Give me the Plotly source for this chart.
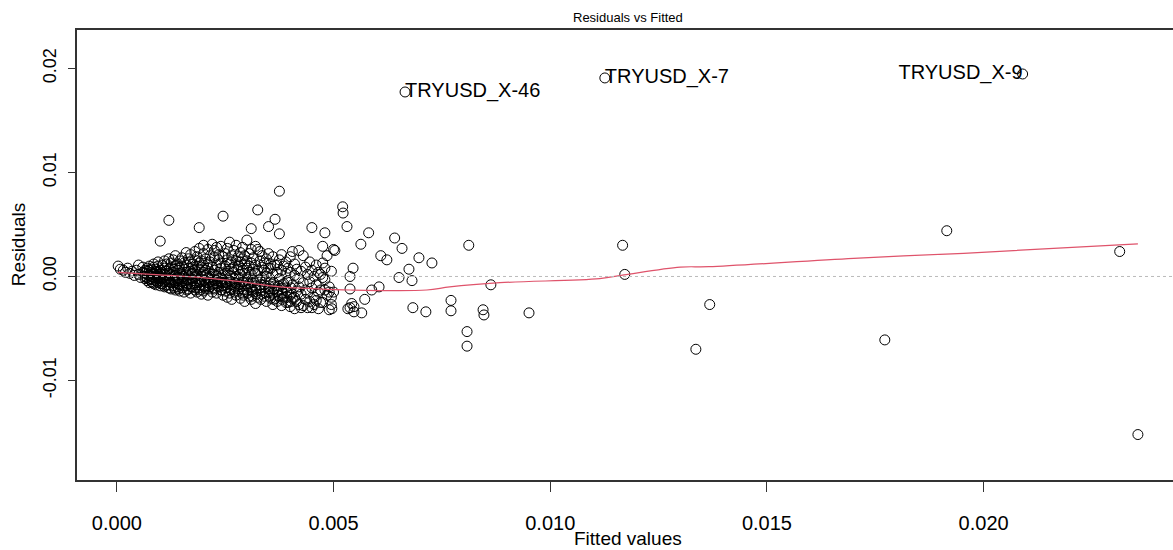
import plotly.graph_objects as go

# dense cluster: fitted value -> residuals seen at that fitted value
cluster = {
    0.00003: [0.0010], 0.00008: [0.0007], 0.00015: [0.0006], 0.0002: [0.0004],
    0.00025: [0.0008], 0.0003: [0.0003], 0.00035: [0.0005], 0.0004: [0.0001],
    0.00045: [0.0006], 0.0005: [0.0011, 0.0002], 0.00055: [-0.0001],
    0.0006: [0.0004, 0.0009],
    0.00065: [0.0003, -0.0002, 0.0006, 0.0000],
    0.0007: [0.0008, -0.0004, 0.0002, 0.0005, -0.0001],
    0.00075: [0.0001, -0.0003, 0.0006, 0.0010, -0.0006],
    0.0008: [0.0004, -0.0005, 0.0000, 0.0007, -0.0002],
    0.00085: [0.0009, -0.0007, 0.0003, -0.0001, 0.0012],
    0.0009: [0.0005, -0.0004, 0.0001, -0.0008, 0.0007],
    0.00095: [0.0002, -0.0006, 0.0010, -0.0002, 0.0014],
    0.001: [0.0034, 0.0006, -0.0009, 0.0000, 0.0003, -0.0004],
    0.00105: [0.0011, -0.0007, 0.0004, -0.0002],
    0.0011: [0.0015, -0.0010, 0.0002, 0.0008, -0.0005],
    0.00115: [0.0005, -0.0003, 0.0012, -0.0008],
    0.0012: [0.0054, 0.0017, -0.0011, 0.0001, 0.0007, -0.0005],
    0.00125: [0.0009, -0.0006, 0.0002, -0.0012, 0.0013],
    0.0013: [0.0004, -0.0009, 0.0016, -0.0003, 0.0007],
    0.00135: [0.0001, -0.0013, 0.0010, -0.0006, 0.0020],
    0.0014: [0.0006, -0.0004, 0.0012, -0.0010, -0.0001],
    0.00145: [0.0015, -0.0008, 0.0003, -0.0014, 0.0008],
    0.0015: [0.0002, -0.0011, 0.0018, -0.0005, 0.0010],
    0.00155: [0.0007, -0.0002, -0.0015, 0.0013, 0.0000],
    0.0016: [0.0011, -0.0009, 0.0004, 0.0023, -0.0006],
    0.00165: [0.0001, -0.0012, 0.0017, -0.0003, 0.0008],
    0.0017: [0.0014, -0.0007, 0.0005, -0.0016, 0.0021],
    0.00175: [0.0003, -0.0010, 0.0009, -0.0004, 0.0012],
    0.0018: [0.0024, -0.0013, 0.0006, -0.0001, 0.0016],
    0.00185: [0.0010, -0.0008, 0.0002, -0.0015, 0.0019],
    0.0019: [0.0047, 0.0007, -0.0005, 0.0013, -0.0011, 0.0027],
    0.00195: [0.0000, -0.0017, 0.0015, -0.0003, 0.0009],
    0.002: [0.0022, -0.0009, 0.0004, -0.0014, 0.0011, 0.0030],
    0.00205: [0.0006, -0.0006, 0.0017, -0.0012, 0.0001],
    0.0021: [0.0026, -0.0002, 0.0012, -0.0018, 0.0008],
    0.00215: [0.0003, -0.0010, 0.0020, -0.0005, 0.0014],
    0.0022: [0.0031, 0.0009, -0.0015, 0.0002, -0.0008],
    0.00225: [0.0018, -0.0004, 0.0006, -0.0012, 0.0025],
    0.0023: [0.0011, -0.0016, 0.0001, 0.0028, -0.0007],
    0.00235: [0.0004, -0.0010, 0.0016, -0.0002, 0.0021],
    0.0024: [0.0008, -0.0013, 0.0029, -0.0005, 0.0013],
    0.00245: [0.0058, 0.0002, -0.0018, 0.0019, -0.0009],
    0.0025: [0.0010, -0.0014, 0.0003, 0.0022, -0.0006],
    0.00255: [0.0016, -0.0020, 0.0005, -0.0010, 0.0027],
    0.0026: [0.0001, -0.0016, 0.0012, 0.0033, -0.0004],
    0.00265: [0.0020, -0.0008, 0.0007, -0.0022, 0.0014],
    0.0027: [0.0004, -0.0012, 0.0025, -0.0002, 0.0009],
    0.00275: [0.0015, -0.0018, 0.0000, 0.0030, -0.0007],
    0.0028: [0.0007, -0.0014, 0.0019, -0.0003, 0.0011],
    0.00285: [0.0023, -0.0010, 0.0002, -0.0021, 0.0014],
    0.0029: [0.0006, -0.0016, 0.0017, -0.0005, 0.0028],
    0.00295: [0.0012, -0.0024, 0.0003, -0.0009, 0.0020],
    0.003: [0.0035, 0.0008, -0.0013, -0.0001, 0.0015],
    0.00305: [0.0004, -0.0019, 0.0022, -0.0007, 0.0010],
    0.0031: [0.0046, 0.0013, -0.0011, 0.0002, -0.0022, 0.0026],
    0.00315: [0.0007, -0.0015, 0.0018, -0.0004],
    0.0032: [0.0011, -0.0026, 0.0003, 0.0029, -0.0009],
    0.00325: [0.0064, 0.0026, -0.0020, 0.0005],
    0.0033: [0.0024, -0.0011, 0.0015, -0.0003],
    0.00335: [-0.0001, 0.0009, -0.0017, 0.0020],
    0.0034: [-0.0019, 0.0006, 0.0013, -0.0008],
    0.00345: [0.0000, -0.0024, 0.0017, 0.0003],
    0.0035: [0.0048, 0.0008, -0.0012, 0.0022],
    0.00355: [0.0008, -0.0005, -0.0021, 0.0012],
    0.0036: [0.0002, -0.0016, 0.0019, -0.0027],
    0.00365: [0.0055, -0.0021, 0.0011, -0.0009],
    0.0037: [0.0011, -0.0015, 0.0004, -0.0024],
    0.00375: [0.0082, 0.0041, 0.0016, -0.0002, -0.0019],
    0.0038: [0.0006, -0.0012, -0.0028, 0.0021],
    0.00385: [-0.0020, 0.0010, -0.0007],
    0.0039: [-0.0011, 0.0003, -0.0025, 0.0014],
    0.00395: [-0.0025, -0.0004, 0.0008],
    0.004: [0.0004, -0.0018, -0.0029, 0.0019],
    0.00405: [0.0024, -0.0008, -0.0021],
    0.0041: [-0.0020, 0.0001, 0.0012, -0.0031],
    0.00415: [0.0007, -0.0014, -0.0024],
    0.0042: [0.0025, -0.0002, -0.0027, -0.0010],
    0.00425: [0.0005, -0.0017, -0.0030],
    0.0043: [0.0020, -0.0028, -0.0006],
    0.00435: [-0.0013, 0.0009, -0.0022],
    0.0044: [-0.0016, -0.0030, 0.0002],
    0.00445: [-0.0005, -0.0024, 0.0014],
    0.0045: [0.0047, -0.0030, -0.0011, 0.0006],
    0.00455: [-0.0020, -0.0027, 0.0000],
    0.0046: [-0.0023, 0.0011, -0.0008],
    0.00465: [-0.0015, -0.0031, 0.0004],
    0.0047: [-0.0025, 0.0002, -0.0013],
    0.00475: [0.0029, -0.0025, 0.0013, -0.0001],
    0.0048: [0.0042, -0.0013, -0.0003, 0.0008],
    0.00485: [-0.0018, 0.0020],
    0.0049: [-0.0032, -0.0010, -0.0015],
    0.00495: [-0.0027, 0.0005, -0.0020],
    0.005: [0.0026, -0.0015],
}

# extra points in the dark core of the cluster, just below zero
core = {
    0.00082: [-0.0003, 0.0002, -0.0006], 0.00092: [0.0000, -0.0005, 0.0004],
    0.00102: [-0.0002, -0.0007, 0.0002], 0.00112: [-0.0004, 0.0001, -0.0009],
    0.00122: [-0.0008, -0.0002, 0.0003], 0.00132: [-0.0005, -0.0011, 0.0001],
    0.00142: [-0.0007, -0.0002, -0.0012], 0.00152: [-0.0009, 0.0000, -0.0004],
    0.00162: [-0.0003, -0.0013, -0.0007], 0.00172: [-0.0010, -0.0002, 0.0002],
    0.00182: [-0.0006, -0.0011, 0.0000], 0.00192: [-0.0008, -0.0003, -0.0013],
    0.00202: [-0.0004, -0.0010, 0.0001], 0.00212: [-0.0012, -0.0006, -0.0001],
    0.00222: [-0.0003, -0.0011, -0.0007], 0.00232: [-0.0009, -0.0004, 0.0000],
    0.00242: [-0.0013, -0.0006, -0.0002], 0.00252: [-0.0008, -0.0003, -0.0011],
    0.00262: [-0.0005, -0.0013, 0.0000], 0.00272: [-0.0010, -0.0006, -0.0015],
    0.00282: [-0.0008, -0.0001, -0.0012], 0.00292: [-0.0013, -0.0005, -0.0018],
    0.00302: [-0.0009, -0.0003, -0.0016], 0.00312: [-0.0006, -0.0014, -0.0019],
    0.00322: [-0.0012, -0.0004, -0.0017], 0.00332: [-0.0008, -0.0014, -0.0022],
    0.00342: [-0.0011, -0.0005, -0.0016], 0.00352: [-0.0015, -0.0009, -0.0019],
    0.00362: [-0.0012, -0.0006, -0.0022], 0.00372: [-0.0009, -0.0018, -0.0013],
    0.00382: [-0.0016, -0.0022, -0.0008], 0.00392: [-0.0014, -0.0019, -0.0005],
    0.00402: [-0.0011, -0.0024, -0.0016],
}

# sparse points to the right of the cluster
sparse_fitted = [
    0.00503, 0.00521, 0.00522, 0.00531, 0.00581, 0.00563, 0.00641, 0.00658,
    0.00609, 0.00623, 0.00697, 0.00727, 0.00674, 0.00651, 0.00681, 0.00545,
    0.00538, 0.00538, 0.00605, 0.00588, 0.00572, 0.00683, 0.00713, 0.00771,
    0.00771, 0.00496, 0.00533, 0.00542, 0.00547, 0.00547, 0.00565, 0.00538,
    0.00812, 0.00808, 0.00808, 0.00845, 0.00847, 0.00863, 0.00951,
    0.01167, 0.01172, 0.01336, 0.01368, 0.01772, 0.01915, 0.02314, 0.02356,
]
sparse_resid = [
    0.0025, 0.0067, 0.0061, 0.0048, 0.0042, 0.0031, 0.0037, 0.0027,
    0.0020, 0.0016, 0.0018, 0.0013, 0.0007, -0.0001, -0.0004, 0.0008,
    0.0000, -0.0012, -0.0010, -0.0013, -0.0022, -0.0030, -0.0034, -0.0023,
    -0.0033, -0.0031, -0.0031, -0.0026, -0.0029, -0.0034, -0.0035, -0.0030,
    0.0030, -0.0053, -0.0067, -0.0032, -0.0037, -0.0008, -0.0035,
    0.0030, 0.0002, -0.0070, -0.0027, -0.0061, 0.0044, 0.0024, -0.0152,
]

# labelled outliers
label_fitted = [0.00665, 0.01126, 0.02090]
label_resid = [0.01774, 0.01909, 0.01947]
label_names = ["TRYUSD_X-46", "TRYUSD_X-7", "TRYUSD_X-9"]
label_pos = ["middle right", "middle right", "middle left"]

# smoother
smooth_x = [0.00002, 0.001, 0.00208, 0.00284, 0.00376, 0.00445, 0.00538,
            0.00715, 0.00768, 0.00884, 0.01114, 0.0117, 0.0130, 0.01366,
            0.0170, 0.01954, 0.02356]
smooth_y = [0.0004, 0.00015, -0.00015, -0.0005, -0.0010, -0.00115, -0.0013,
            -0.0013, -0.0010, -0.0006, -0.0002, 0.00015, 0.0009, 0.00094,
            0.00175, 0.00223, 0.00313]

groups = [cluster, core]
fitted = [x for g in groups for x, rs in g.items() for _ in rs] + sparse_fitted + label_fitted
resid = [r for g in groups for rs in g.values() for r in rs] + sparse_resid + label_resid

font = "Liberation Sans, Arial, sans-serif"

fig = go.Figure()
fig.add_shape(type="line", xref="paper", yref="y", x0=0, x1=1, y0=0, y1=0,
              line=dict(color="#bbbbbb", width=1, dash="dot"))
fig.add_trace(go.Scatter(
    x=fitted, y=resid, mode="markers",
    marker=dict(symbol="circle-open", size=10, color="black", line=dict(width=1)),
    showlegend=False,
))
fig.add_trace(go.Scatter(
    x=smooth_x, y=smooth_y, mode="lines", line=dict(color="#df536b", width=1.2),
    line_shape="spline", showlegend=False,
))
fig.add_trace(go.Scatter(
    x=label_fitted, y=label_resid, mode="text", text=label_names,
    textposition=label_pos, textfont=dict(size=20, color="black", family=font),
    showlegend=False,
))

# title and axis titles placed like R's plot()
fig.add_annotation(text="Residuals vs Fitted", xref="paper", yref="paper",
                   x=0.503, y=1.027, showarrow=False, font=dict(size=13),
                   xanchor="center", yanchor="middle")
fig.add_annotation(text="Fitted values", xref="paper", yref="paper",
                   x=0.503, y=-0.129, showarrow=False, font=dict(size=19),
                   xanchor="center", yanchor="middle")
fig.add_annotation(text="Residuals", xref="paper", yref="paper",
                   x=-0.0538, y=0.522, showarrow=False, font=dict(size=19),
                   textangle=-90, xanchor="center", yanchor="middle")

fig.update_layout(
    width=1173, height=550,
    margin=dict(l=77, r=0, t=30, b=70),
    paper_bgcolor="white", plot_bgcolor="white",
    font=dict(family=font, color="black"),
)
fig.update_xaxes(
    range=[-0.00092, 0.02437], tickvals=[0, 0.005, 0.01, 0.015, 0.02],
    ticktext=["0.000", "0.005", "0.010", "0.015", "0.020"], automargin=False,
    showgrid=False, zeroline=False, showline=True, linecolor="#333", linewidth=1.5,
    mirror=True, ticks="outside", ticklen=10, tickcolor="#333",
    ticklabelstandoff=14, tickfont=dict(size=20),
)
fig.update_yaxes(
    range=[-0.01957, 0.0237], tickvals=[-0.01, 0, 0.01, 0.02],
    ticktext=["-0.01", "0.00", "0.01", "0.02"], tickangle=-90, automargin=False,
    showgrid=False, zeroline=False, showline=True, linecolor="#333", linewidth=1.5,
    ticks="outside", ticklen=7, tickcolor="#333", tickfont=dict(size=18),
    ticklabelstandoff=5,
)

# drop the page's default body margin so the figure fills the window
fig.write_html(
    "out.html",
    config={"displayModeBar": False},
    post_script="document.body.style.margin='0';document.body.style.overflow='hidden';",
)
